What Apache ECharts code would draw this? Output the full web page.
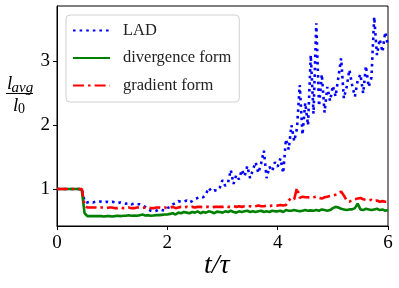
<!DOCTYPE html>
<html><head><meta charset="utf-8">
<script src="https://cdn.jsdelivr.net/npm/echarts@6/dist/echarts.min.js"></script>
<style>html,body{margin:0;padding:0;background:#fff}#c{width:399px;height:288px}</style>
</head><body><div id="c"></div>
<script>
// sampling step of t/tau for all series (t = 0 ... 6)
const dt = 0.05;
const lad = [
 1,1,1,1,1,1,1,1,1,1,
 0.80,0.79,0.80,0.79,0.80,0.81,0.80,0.79,0.80,0.79,
 0.80,0.79,0.78,0.79,0.78,0.77,0.78,0.76,0.77,0.76,
 0.76,0.74,0.72,0.68,0.66,0.65,0.66,0.68,0.67,0.66,
 0.70,0.72,0.76,0.78,0.81,0.80,0.80,0.82,0.79,0.81,
 0.84,0.86,0.88,0.87,0.92,1.02,0.96,0.98,0.97,1.02,
 1.14,1.05,1.10,1.30,1.08,1.22,1.15,1.30,1.20,1.36,
 1.17,1.30,1.42,1.25,1.40,1.60,1.17,1.35,1.28,1.42,
 1.35,1.48,1.25,1.78,1.62,2.00,1.75,1.95,2.63,1.85,
 2.35,2.00,3.10,2.18,3.60,2.30,2.80,2.20,2.60,2.38,
 2.62,2.45,2.75,3.05,2.42,2.60,2.87,2.63,2.45,2.70,
 2.80,2.50,2.93,2.60,2.75,3.70,3.10,3.35,3.15,3.46,
 3.25
];
const divergence = [
 1,1,1,1,1,1,1,1,1,0.98,
 0.62,0.575,0.575,0.575,0.575,0.575,0.575,0.57,0.575,0.575,
 0.57,0.575,0.58,0.575,0.58,0.58,0.59,0.58,0.585,0.58,
 0.59,0.60,0.585,0.59,0.58,0.585,0.59,0.59,0.595,0.60,
 0.60,0.61,0.62,0.60,0.63,0.62,0.64,0.63,0.62,0.64,
 0.63,0.65,0.62,0.64,0.63,0.65,0.64,0.62,0.645,0.64,
 0.63,0.65,0.64,0.66,0.64,0.63,0.65,0.64,0.65,0.66,
 0.64,0.65,0.64,0.65,0.66,0.64,0.65,0.64,0.66,0.65,
 0.65,0.66,0.64,0.67,0.66,0.66,0.67,0.66,0.65,0.66,
 0.67,0.66,0.665,0.66,0.67,0.66,0.68,0.67,0.66,0.67,
 0.70,0.72,0.71,0.69,0.68,0.67,0.68,0.68,0.70,0.77,
 0.68,0.67,0.69,0.68,0.67,0.68,0.69,0.67,0.68,0.66,
 0.67
];
const gradient = [
 1,1,1,1,1,1,1,1,1,1,
 0.74,0.71,0.71,0.71,0.71,0.70,0.71,0.71,0.70,0.71,
 0.71,0.70,0.70,0.71,0.70,0.70,0.71,0.70,0.70,0.71,
 0.71,0.70,0.71,0.71,0.70,0.70,0.71,0.71,0.70,0.71,
 0.70,0.71,0.72,0.70,0.71,0.72,0.71,0.72,0.71,0.72,
 0.71,0.72,0.72,0.71,0.72,0.72,0.71,0.72,0.72,0.72,
 0.72,0.73,0.72,0.72,0.73,0.72,0.73,0.72,0.73,0.73,
 0.73,0.72,0.73,0.74,0.73,0.73,0.74,0.73,0.74,0.74,
 0.74,0.75,0.74,0.75,0.82,0.86,0.84,1.02,0.86,0.88,
 0.87,0.87,0.86,0.87,0.88,0.86,0.85,0.87,0.88,0.89,
 0.90,0.91,0.92,0.96,0.90,0.82,0.80,0.83,0.84,0.85,
 0.86,0.84,0.83,0.82,0.83,0.81,0.82,0.80,0.81,0.80,
 0.80
];
const seriesNames = ['LAD', 'divergence form', 'gradient form'];
const yTicks = [1, 2, 3];

function pairs(v) { return v.map((y, i) => [+(i * dt).toFixed(2), y]); }

const FONT = 'Liberation Serif';
const chart = echarts.init(document.getElementById('c'), null, {renderer: 'canvas'});
chart.setOption({
  animation: false,
  grid: {left: 57, right: 11, top: 6, bottom: 62, show: true, borderColor: '#000', borderWidth: 1, backgroundColor: 'transparent'},
  xAxis: {
    type: 'value', min: 0, max: 6, interval: 2,
    axisLine: {show: true, lineStyle: {color: '#000', width: 1}},
    axisTick: {show: true, inside: false, length: 4, lineStyle: {color: '#000'}},
    axisLabel: {margin: 8, color: '#000', fontFamily: FONT, fontSize: 19},
    splitLine: {show: false}
  },
  yAxis: {
    type: 'value', min: 0.42, max: 3.87,
    axisLine: {show: true, lineStyle: {color: '#000', width: 1}},
    axisTick: {show: true, inside: false, length: 4, customValues: yTicks, lineStyle: {color: '#000'}},
    axisLabel: {margin: 7, color: '#000', fontFamily: FONT, fontSize: 19, customValues: yTicks},
    splitLine: {show: false}
  },
  legend: {
    left: 66, top: 15, orient: 'vertical',
    data: seriesNames,
    itemWidth: 37, itemHeight: 14, itemGap: 10.5,
    padding: [7, 8, 8, 6],
    itemStyle: {opacity: 0},
    backgroundColor: 'rgba(255,255,255,0.8)', borderColor: '#d0d0d0', borderWidth: 1, borderRadius: 4,
    textStyle: {fontFamily: FONT, fontSize: 16.5, color: '#222', lineHeight: 14, padding: [0, 0, 0, 8]}
  },
  series: [
    {name: seriesNames[0], type: 'line', data: pairs(lad), symbol: 'none', smooth: false,
     lineStyle: {color: '#0000ff', width: 2.6, type: [2.6, 4]}, itemStyle: {color: '#0000ff'}, z: 2},
    {name: seriesNames[1], type: 'line', data: pairs(divergence), symbol: 'none', smooth: false,
     lineStyle: {color: '#008000', width: 2.6, type: 'solid'}, itemStyle: {color: '#008000'}, z: 3},
    {name: seriesNames[2], type: 'line', data: pairs(gradient), symbol: 'none', smooth: false,
     lineStyle: {color: '#ff0000', width: 2.6, type: [11, 4, 2.6, 4]}, itemStyle: {color: '#ff0000'}, z: 4}
  ],
  graphic: [
    {type: 'text', left: 204, top: 252, style: {text: 't/τ', font: 'italic 28px "Liberation Serif"', fill: '#000'}},
    {type: 'text', x: 7, y: 84, style: {text: 'l', font: 'italic 19px "Liberation Serif"', fill: '#000', verticalAlign: 'middle'}},
    {type: 'text', x: 11.5, y: 88, style: {text: 'avg', font: 'italic 15px "Liberation Serif"', fill: '#000', verticalAlign: 'middle'}},
    {type: 'line', shape: {x1: 6, y1: 93.5, x2: 33, y2: 93.5}, style: {stroke: '#000', lineWidth: 1}},
    {type: 'text', x: 13, y: 105.5, style: {text: 'l', font: 'italic 19px "Liberation Serif"', fill: '#000', verticalAlign: 'middle'}},
    {type: 'text', x: 18, y: 109, style: {text: '0', font: '14px "Liberation Serif"', fill: '#000', verticalAlign: 'middle'}}
  ]
});
</script>
</body></html>
